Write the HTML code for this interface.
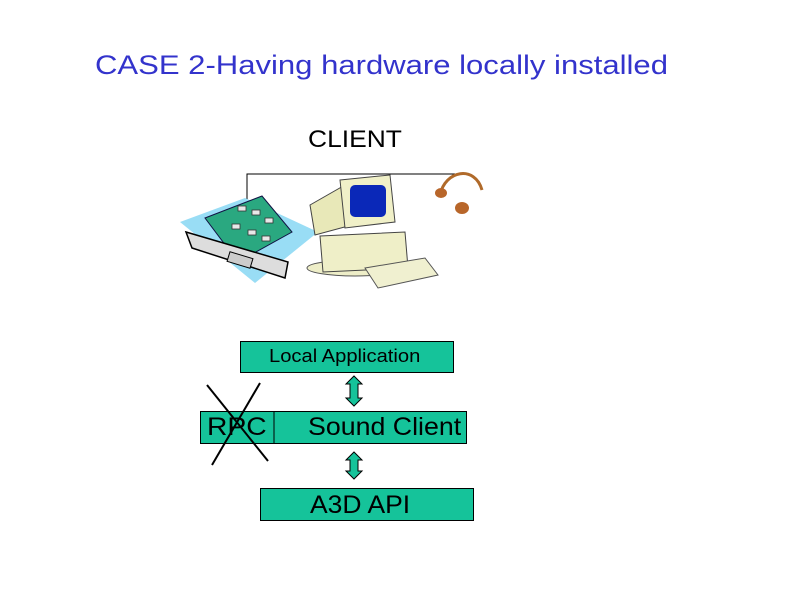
<!DOCTYPE html>
<html><head><style>
body{margin:0;width:800px;height:600px;background:#fff;position:relative;overflow:hidden;font-family:"Liberation Sans",sans-serif}
.t{position:absolute;white-space:nowrap;transform-origin:0 0}
</style></head><body>
<div class="t" style="left:95px;top:50px;font-size:27px;color:#3333cc;transform:scaleX(1.15)">CASE 2-Having hardware locally installed</div>
<div class="t" style="left:308px;top:126px;font-size:24px;color:#000;transform:scaleX(1.1)">CLIENT</div>
<svg width="800" height="600" style="position:absolute;left:0;top:0">
<polyline points="247,205 247,174 455,174" fill="none" stroke="#000" stroke-width="1"/>
<polygon points="180,222 245,198 318,232 255,283" fill="#99ddf5"/>
<polygon points="205,218 262,196 292,232 238,262" fill="#2aa880" stroke="#114" stroke-width="1"/>
<g fill="#e8e8e8" stroke="#333" stroke-width=".8">
<rect x="238" y="206" width="8" height="5"/><rect x="252" y="210" width="8" height="5"/><rect x="265" y="218" width="8" height="5"/><rect x="232" y="224" width="8" height="5"/><rect x="248" y="230" width="8" height="5"/><rect x="262" y="236" width="8" height="5"/></g>
<polygon points="186,232 288,262 285,278 192,248" fill="#ddd" stroke="#000" stroke-width="1.5"/>
<rect x="228" y="255" width="24" height="10" fill="#ccc" stroke="#000" transform="rotate(17 240 260)"/>
<ellipse cx="355" cy="268" rx="48" ry="8" fill="#eeeec8" stroke="#555"/>
<polygon points="320,236 405,232 408,268 323,272" fill="#efefc8" stroke="#444"/>
<polygon points="310,205 345,185 352,225 315,235" fill="#e8e8b8" stroke="#444"/>
<polygon points="340,180 390,175 395,222 345,228" fill="#f0f0c8" stroke="#444"/>
<rect x="350" y="185" width="36" height="32" rx="5" fill="#0a28b8"/>
<polygon points="365,268 425,258 438,275 378,288" fill="#f0f0d0" stroke="#555"/>
<path d="M440,195 C445,170 475,165 482,190" fill="none" stroke="#b06a2a" stroke-width="3"/>
<ellipse cx="441" cy="193" rx="6" ry="5" fill="#b8662a"/>
<ellipse cx="462" cy="208" rx="7" ry="6" fill="#b8662a"/>
<g fill="#15c39a" stroke="#000" stroke-width="1">
<rect x="240.5" y="341.5" width="213" height="31"/>
<rect x="200.5" y="411.5" width="266" height="32"/>
<rect x="260.5" y="488.5" width="213" height="32"/>
<line x1="274" y1="412" x2="274" y2="443"/>
<polygon points="354,376 362,384 358,384 358,398 362,398 354,406 346,398 350,398 350,384 346,384"/>
<polygon points="354,452 362,460 358,460 358,471 362,471 354,479 346,471 350,471 350,460 346,460"/>
</g>
<line x1="207" y1="385" x2="268" y2="461" stroke="#000" stroke-width="2"/>
<line x1="260" y1="383" x2="212" y2="465" stroke="#000" stroke-width="2"/>
</svg>
<div class="t" style="left:269px;top:346px;font-size:18px;transform:scaleX(1.12)">Local Application</div>
<div class="t" style="left:207px;top:413px;font-size:25px;transform:scaleX(1.13)">RPC</div>
<div class="t" style="left:308px;top:413px;font-size:25px;transform:scaleX(1.07)">Sound Client</div>
<div class="t" style="left:310px;top:491px;font-size:25px;transform:scaleX(1.06)">A3D API</div>
</body></html>
